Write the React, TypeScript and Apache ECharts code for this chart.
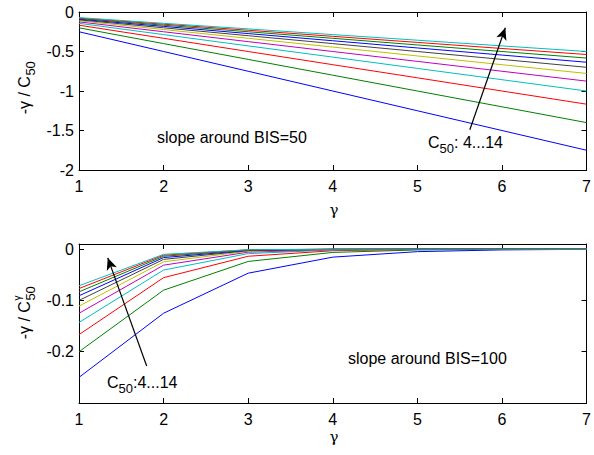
import React, { useEffect, useRef } from "react";
import * as echarts from "echarts";

const gammas = [1, 2, 3, 4, 5, 6, 7];
const c50s = [4, 5, 6, 7, 8, 9, 10, 11, 12, 13, 14];

// top panel: -gamma / C50
const top4 = [-0.25, -0.5, -0.75, -1.0, -1.25, -1.5, -1.75];
const top5 = [-0.2, -0.4, -0.6, -0.8, -1.0, -1.2, -1.4];
const top6 = [-0.167, -0.333, -0.5, -0.667, -0.833, -1.0, -1.167];
const top7 = [-0.143, -0.286, -0.429, -0.571, -0.714, -0.857, -1.0];
const top8 = [-0.125, -0.25, -0.375, -0.5, -0.625, -0.75, -0.875];
const top9 = [-0.111, -0.222, -0.333, -0.444, -0.556, -0.667, -0.778];
const top10 = [-0.1, -0.2, -0.3, -0.4, -0.5, -0.6, -0.7];
const top11 = [-0.091, -0.182, -0.273, -0.364, -0.455, -0.545, -0.636];
const top12 = [-0.083, -0.167, -0.25, -0.333, -0.417, -0.5, -0.583];
const top13 = [-0.077, -0.154, -0.231, -0.308, -0.385, -0.462, -0.538];
const top14 = [-0.071, -0.143, -0.214, -0.286, -0.357, -0.429, -0.5];

// bottom panel: -gamma / C50^gamma
const bot4 = [-0.25, -0.125, -0.0469, -0.0156, -0.0049, -0.0015, -0.0004];
const bot5 = [-0.2, -0.08, -0.024, -0.0064, -0.0016, -0.0004, -0.0001];
const bot6 = [-0.1667, -0.0556, -0.0139, -0.0031, -0.0006, -0.0001, 0];
const bot7 = [-0.1429, -0.0408, -0.0087, -0.0017, -0.0003, -0.0001, 0];
const bot8 = [-0.125, -0.0313, -0.0059, -0.001, -0.0002, 0, 0];
const bot9 = [-0.1111, -0.0247, -0.0041, -0.0006, -0.0001, 0, 0];
const bot10 = [-0.1, -0.02, -0.003, -0.0004, 0, 0, 0];
const bot11 = [-0.0909, -0.0165, -0.0023, -0.0003, 0, 0, 0];
const bot12 = [-0.0833, -0.0139, -0.0017, -0.0002, 0, 0, 0];
const bot13 = [-0.0769, -0.0118, -0.0014, -0.0001, 0, 0, 0];
const bot14 = [-0.0714, -0.0102, -0.0011, -0.0001, 0, 0, 0];

const topSeries = [top4, top5, top6, top7, top8, top9, top10, top11, top12, top13, top14];
const botSeries = [bot4, bot5, bot6, bot7, bot8, bot9, bot10, bot11, bot12, bot13, bot14];

const colors = [
  "#0000ff", "#008000", "#ff0000", "#00bfbf", "#bf00bf", "#bfbf00", "#404040",
  "#0000ff", "#008000", "#ff0000", "#00bfbf",
];

// arrow endpoints (data coords)
const topArrow = [[5.62, -1.49], [6.04, -0.2]];
const botArrow = [[1.8, -0.228], [1.34, -0.017]];

const FONT = "Liberation Sans, Arial, Helvetica, sans-serif";

function measure(text: string, size: number): number {
  const c = document.createElement("canvas").getContext("2d");
  if (!c) return text.length * size * 0.55;
  c.font = size + "px Liberation Sans, Arial, sans-serif";
  return c.measureText(text).width;
}

export default function App() {
  const ref = useRef<HTMLDivElement>(null);
  useEffect(() => {
    if (!ref.current) return;
    const chart = echarts.init(ref.current, null, { renderer: "svg" });

    const grids = [
      { left: 79, top: 12, width: 510, height: 158 },
      { left: 79, top: 244, width: 510, height: 159 },
    ];

    const mkX = (gi: number, pos: "bottom" | "top") => ({
      type: "value",
      gridIndex: gi,
      position: pos,
      min: 1,
      max: 7,
      interval: 1,
      axisLine: { show: true, onZero: false, lineStyle: { color: "#000", width: 1 } },
      axisTick: { show: true, inside: true, length: 5, lineStyle: { color: "#000" } },
      axisLabel: {
        show: pos === "bottom",
        color: "#000",
        fontSize: 16,
        fontFamily: FONT,
        margin: 8,
      },
      splitLine: { show: false },
    });

    const mkY = (gi: number, pos: "left" | "right", min: number, max: number, interval: number, hideMin: boolean) => ({
      type: "value",
      gridIndex: gi,
      position: pos,
      min,
      max,
      interval,
      axisLine: { show: true, onZero: false, lineStyle: { color: "#000", width: 1 } },
      axisTick: { show: true, inside: true, length: 5, lineStyle: { color: "#000" } },
      axisLabel: {
        show: pos === "left",
        color: "#000",
        fontSize: 16,
        fontFamily: FONT,
        margin: 5,
        showMinLabel: !hideMin,
        showMaxLabel: !hideMin,
      },
      splitLine: { show: false },
    });

    const series: any[] = [];
    topSeries.forEach((vals, i) => {
      series.push({
        type: "line",
        name: "top C50=" + c50s[i],
        xAxisIndex: 0,
        yAxisIndex: 0,
        data: gammas.map((g, k) => [g, vals[k]]),
        symbol: "none",
        lineStyle: { color: colors[i], width: 1 },
        z: 2,
      });
    });
    botSeries.forEach((vals, i) => {
      series.push({
        type: "line",
        name: "bottom C50=" + c50s[i],
        xAxisIndex: 2,
        yAxisIndex: 2,
        data: gammas.map((g, k) => [g, vals[k]]),
        symbol: "none",
        lineStyle: { color: colors[i], width: 1 },
        z: 2,
      });
    });

    const arrowLine = (xi: number, yi: number, pts: number[][]) => ({
      type: "line",
      xAxisIndex: xi,
      yAxisIndex: yi,
      data: [],
      markLine: {
        silent: true,
        animation: false,
        symbol: ["none", "arrow"],
        symbolSize: [8, 12],
        label: { show: false },
        lineStyle: { color: "#000", width: 1.2, type: "solid" },
        data: [[{ coord: pts[0] }, { coord: pts[1] }]],
      },
    });
    series.push(arrowLine(0, 0, topArrow));
    series.push(arrowLine(2, 2, botArrow));

    const rich = {
      n: { fontSize: 16, fontFamily: FONT, color: "#000" },
      sub: { fontSize: 13, fontFamily: FONT, color: "#000", padding: [12, 0, 0, 0] },
    };

    const mainTxt = "-γ / C";
    const wMain = measure(mainTxt, 16);
    const w50 = measure("50", 13);
    const yTitle = (cx: number, cy: number, withSup: boolean) => {
      const W = wMain + w50;
      const x0 = -W / 2;
      const kids: any[] = [
        {
          type: "text",
          x: x0,
          y: 0,
          style: { text: mainTxt, fontSize: 16, fontFamily: FONT, fill: "#000", verticalAlign: "middle", align: "left" },
        },
        {
          type: "text",
          x: x0 + wMain + 0.5,
          y: 6,
          style: { text: "50", fontSize: 13, fontFamily: FONT, fill: "#000", verticalAlign: "middle", align: "left" },
        },
      ];
      if (withSup) {
        kids.push({
          type: "text",
          x: x0 + wMain + 0.5,
          y: -7,
          style: { text: "γ", fontSize: 10, fontFamily: FONT, fill: "#000", verticalAlign: "middle", align: "left" },
        });
      }
      return { type: "group", x: cx, y: cy, rotation: Math.PI / 2, children: kids };
    };

    chart.setOption({
      animation: false,
      backgroundColor: "#fff",
      grid: grids,
      xAxis: [mkX(0, "bottom"), mkX(0, "top"), mkX(1, "bottom"), mkX(1, "top")],
      yAxis: [
        mkY(0, "left", -2, 0, 0.5, false),
        mkY(0, "right", -2, 0, 0.5, false),
        mkY(1, "left", -0.3, 0.01, 0.1, true),
        mkY(1, "right", -0.3, 0.01, 0.1, true),
      ],
      series,
      graphic: [
        yTitle(24, 88, false),
        yTitle(24, 313, true),
        {
          type: "text",
          x: 334,
          y: 210,
          style: { text: "γ", fontSize: 15, fontFamily: "DejaVu Serif, serif", fill: "#000", align: "center", verticalAlign: "middle" },
        },
        {
          type: "text",
          x: 334,
          y: 437,
          style: { text: "γ", fontSize: 15, fontFamily: "DejaVu Serif, serif", fill: "#000", align: "center", verticalAlign: "middle" },
        },
        {
          type: "text",
          x: 157,
          y: 137,
          style: { text: "slope around BIS=50", fontSize: 16, fontFamily: FONT, fill: "#000", align: "left", verticalAlign: "middle" },
        },
        {
          type: "text",
          x: 348,
          y: 358,
          style: { text: "slope around BIS=100", fontSize: 16, fontFamily: FONT, fill: "#000", align: "left", verticalAlign: "middle" },
        },
        {
          type: "text",
          x: 428,
          y: 142,
          style: { text: "{n|C}{sub|50}{n|: 4...14}", rich, align: "left", verticalAlign: "middle" },
        },
        {
          type: "text",
          x: 107,
          y: 382,
          style: { text: "{n|C}{sub|50}{n|:4...14}", rich, align: "left", verticalAlign: "middle" },
        },
      ],
    });
    return () => chart.dispose();
  }, []);
  return (
    <div
      ref={ref}
      style={{ position: "fixed", left: 0, top: 0, width: 594, height: 455, background: "#fff" }}
    />
  );
}
